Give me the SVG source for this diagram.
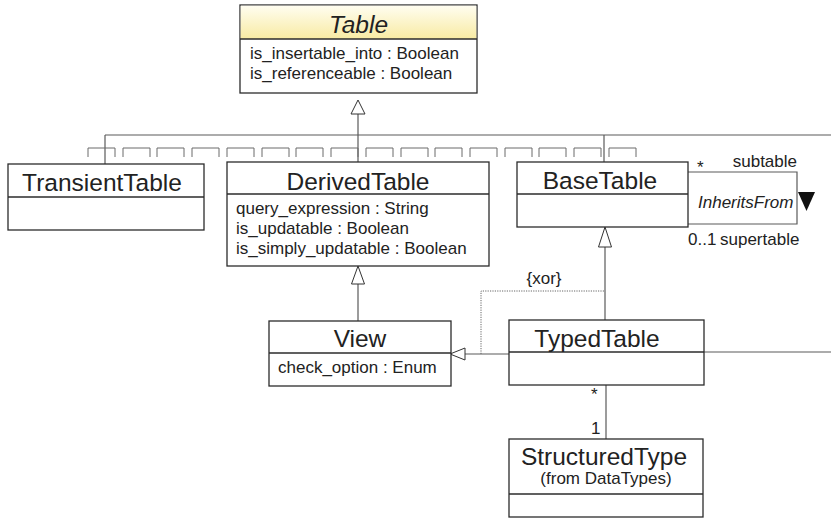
<svg xmlns="http://www.w3.org/2000/svg" width="831" height="518" viewBox="0 0 831 518">
  <defs>
    <linearGradient id="hdr" x1="0" y1="0" x2="0" y2="1">
      <stop offset="0" stop-color="#fffdf0"/>
      <stop offset="1" stop-color="#f8eba3"/>
    </linearGradient>
    <style>
      .box { fill: #fff; stroke: #2b2b2b; stroke-width: 1.3; }
      .sep { stroke: #2b2b2b; stroke-width: 1.3; fill: none; }
      .con { stroke: #5a5a5a; stroke-width: 1.2; fill: none; }
      .brk { stroke: #6a6a6a; stroke-width: 1; fill: none; }
      .dot { stroke: #666; stroke-width: 1; fill: none; stroke-dasharray: 1.2 1.2; }
      .tri { fill: #fff; stroke: #333; stroke-width: 1; }
      .name { font-family: "Liberation Sans", Arial, sans-serif; font-size: 24.5px; fill: #222; text-anchor: middle; }
      .attr { font-family: "Liberation Sans", Arial, sans-serif; font-size: 17px; fill: #222; }
      .lbl { font-family: "Liberation Sans", Arial, sans-serif; font-size: 17px; fill: #222; }
    </style>
  </defs>

  <!-- connectors -->
  <g id="connectors">
    <!-- generalization tree towards Table -->
    <path class="con" d="M358,114 V162"/>
    <path class="con" d="M105,135 H831"/>
    <path class="con" d="M105,135 V164"/>
    <path class="con" d="M604,135 V162"/>
    <polygon class="tri" points="358,100 351,114 365,114"/>
    <!-- stacked bracket marks along the tree -->
    <g class="brk">
      <path d="M88,157 V148 H115 V157"/>
      <path d="M123,157 V148 H150 V157"/>
      <path d="M157,157 V148 H184 V157"/>
      <path d="M192,157 V148 H219 V157"/>
      <path d="M227,157 V148 H254 V157"/>
      <path d="M262,157 V148 H289 V157"/>
      <path d="M296,157 V148 H323 V157"/>
      <path d="M331,157 V148 H358 V157"/>
      <path d="M366,157 V148 H393 V157"/>
      <path d="M401,157 V148 H428 V157"/>
      <path d="M435,157 V148 H462 V157"/>
      <path d="M470,157 V148 H497 V157"/>
      <path d="M505,157 V148 H532 V157"/>
      <path d="M539,157 V148 H566 V157"/>
      <path d="M574,157 V148 H601 V157"/>
      <path d="M609,157 V148 H636 V157"/>
    </g>
    <!-- InheritsFrom self association on BaseTable -->
    <path class="con" d="M688,172 H797 V224 H688"/>
    <text class="lbl" x="697" y="173" font-size="15">*</text>
    <text class="lbl" x="797" y="167" text-anchor="end">subtable</text>
    <text class="lbl" x="698" y="208" font-style="italic">InheritsFrom</text>
    <polygon points="798,192 815,192 806.5,211" fill="#111"/>
    <text class="lbl" x="688" y="245">0..1</text>
    <text class="lbl" x="720" y="245">supertable</text>
    <!-- DerivedTable to View generalization -->
    <path class="con" d="M358,284 V321"/>
    <polygon class="tri" points="358,266 351.5,284 364.5,284"/>
    <!-- BaseTable to TypedTable generalization -->
    <path class="con" d="M605,247 V320"/>
    <polygon class="tri" points="605,227 598.5,247 611.5,247"/>
    <!-- TypedTable to View generalization -->
    <path class="con" d="M465,354 H509"/>
    <polygon class="tri" points="450,354 465,348 465,360"/>
    <!-- xor constraint -->
    <path class="dot" d="M481,354 V291 H605"/>
    <text class="lbl" x="544" y="284" text-anchor="middle" font-size="16">{xor}</text>
    <!-- TypedTable line to the right -->
    <path class="con" d="M704,352 H831"/>
    <!-- TypedTable to StructuredType -->
    <path class="con" d="M606,385 V439"/>
    <text class="lbl" x="591" y="400">*</text>
    <text class="lbl" x="591" y="434">1</text>
  </g>

  <g id="Table">
    <rect class="box" x="240" y="5" width="237" height="88"/>
    <rect x="240.7" y="5.7" width="235.6" height="33.3" fill="url(#hdr)"/>
    <path class="sep" d="M240,39 H477"/>
    <text class="name" x="358.5" y="33" font-style="italic">Table</text>
    <text class="attr" x="250" y="59">is_insertable_into : Boolean</text>
    <text class="attr" x="250" y="79">is_referenceable : Boolean</text>
  </g>

  <g id="TransientTable">
    <rect class="box" x="8" y="164" width="196" height="66"/>
    <path class="sep" d="M8,197 H204"/>
    <text class="name" x="102" y="191">TransientTable</text>
  </g>

  <g id="DerivedTable">
    <rect class="box" x="227" y="162" width="262" height="104"/>
    <path class="sep" d="M227,194 H489"/>
    <text class="name" x="358" y="190">DerivedTable</text>
    <text class="attr" x="236" y="214">query_expression : String</text>
    <text class="attr" x="236" y="234">is_updatable : Boolean</text>
    <text class="attr" x="236" y="254">is_simply_updatable : Boolean</text>
  </g>

  <g id="BaseTable">
    <rect class="box" x="517" y="162" width="171" height="65"/>
    <path class="sep" d="M517,194 H688"/>
    <text class="name" x="600" y="189">BaseTable</text>
  </g>

  <g id="View">
    <rect class="box" x="269" y="321" width="182" height="65"/>
    <path class="sep" d="M269,353 H451"/>
    <text class="name" x="360" y="347">View</text>
    <text class="attr" x="278" y="373">check_option : Enum</text>
  </g>

  <g id="TypedTable">
    <rect class="box" x="509" y="320" width="195" height="65"/>
    <path class="sep" d="M509,352 H704"/>
    <text class="name" x="597" y="347">TypedTable</text>
  </g>

  <g id="StructuredType">
    <rect class="box" x="509" y="439" width="194" height="78"/>
    <path class="sep" d="M509,494 H703"/>
    <text class="name" x="604" y="465" font-size="25">StructuredType</text>
    <text class="lbl" x="606" y="484" text-anchor="middle" font-size="13.5">(from DataTypes)</text>
  </g>
</svg>
